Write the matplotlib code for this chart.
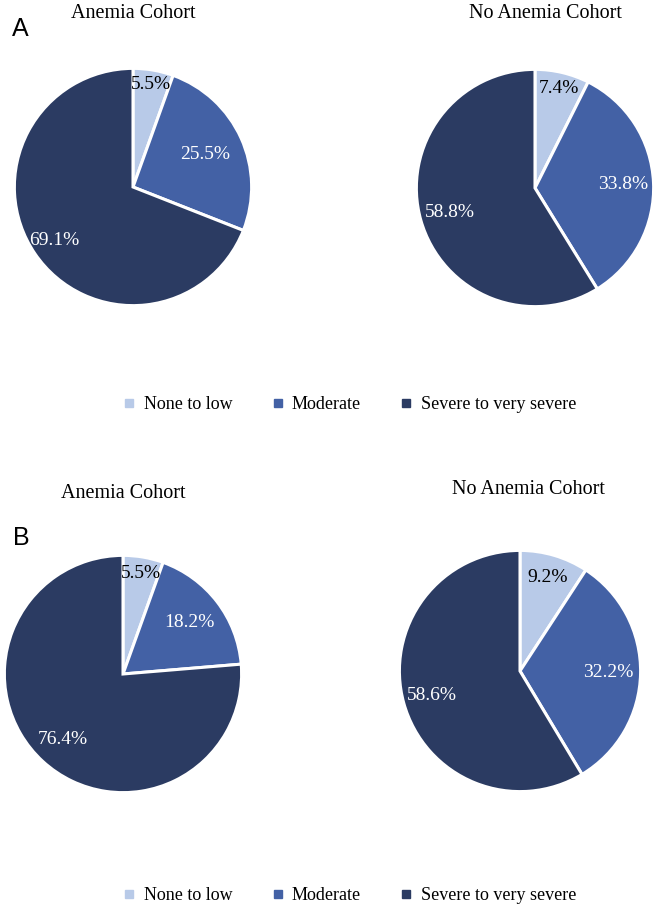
import numpy as np
import matplotlib
matplotlib.use("Agg")
import matplotlib.pyplot as plt
from matplotlib.lines import Line2D

categories = ["None to low", "Moderate", "Severe to very severe"]
colors = ["#B8CAE8", "#4361A5", "#2B3B62"]

titles = ["Anemia Cohort", "No Anemia Cohort"]
a_anemia = [5.5, 25.5, 69.1]
a_no_anemia = [7.4, 33.8, 58.8]
b_anemia = [5.5, 18.2, 76.4]
b_no_anemia = [9.2, 32.2, 58.6]

W, H = 664, 916
fig = plt.figure(figsize=(W / 100, H / 100), dpi=100)
fig.patch.set_facecolor("white")

serif = ["Liberation Serif", "DejaVu Serif"]
sans = ["Liberation Sans", "DejaVu Sans"]

# (values, center x, center y, radius, label distances, title, title pos)
pies = [
    (a_anemia, 133, 187, 121, [0.88, 0.67, 0.80], titles[0], (133, 13)),
    (a_no_anemia, 535, 188, 121, [0.86, 0.74, 0.75], titles[1], (545, 13)),
    (b_anemia, 123, 674, 121, [0.86, 0.71, 0.75], titles[0], (123, 493)),
    (b_no_anemia, 520, 671, 123, [0.81, 0.73, 0.76], titles[1], (528, 490)),
]
text_colors = ["black", "white", "white"]

for vals, cx, cy, r, dists, title, tpos in pies:
    ax = fig.add_axes([(cx - r) / W, (H - cy - r) / H, 2 * r / W, 2 * r / H])
    wedges, _ = ax.pie(vals, colors=colors, startangle=90, counterclock=False,
                       radius=1, wedgeprops=dict(edgecolor="white", linewidth=2.2))
    ax.set_xlim(-1.02, 1.02)
    ax.set_ylim(-1.02, 1.02)
    ax.axis("off")
    for w, d, v, tc in zip(wedges, dists, vals, text_colors):
        ang = np.deg2rad((w.theta1 + w.theta2) / 2)
        ax.text(d * np.cos(ang), d * np.sin(ang), f"{v:.1f}%", ha="center", va="center",
                fontsize=14, color=tc, family=serif)
    fig.text(tpos[0] / W, 1 - tpos[1] / H, title, ha="center", va="center",
             fontsize=14.5, family=serif)

fig.text(20 / W, 1 - 29 / H, "A", ha="center", va="center", fontsize=18, family=sans)
fig.text(21 / W, 1 - 538 / H, "B", ha="center", va="center", fontsize=18, family=sans)

handles = [Line2D([0], [0], marker="s", linestyle="none", markersize=6,
                  markerfacecolor=c, markeredgecolor=c) for c in colors]
for ly in (405, 896):
    fig.legend(handles, categories, loc="center", bbox_to_anchor=(350 / W, 1 - ly / H),
               ncol=3, frameon=False, handlelength=0.6, handletextpad=0.5,
               columnspacing=2.2, prop=dict(family=serif, size=13))

fig.savefig("out.png", dpi=100, facecolor="white")
